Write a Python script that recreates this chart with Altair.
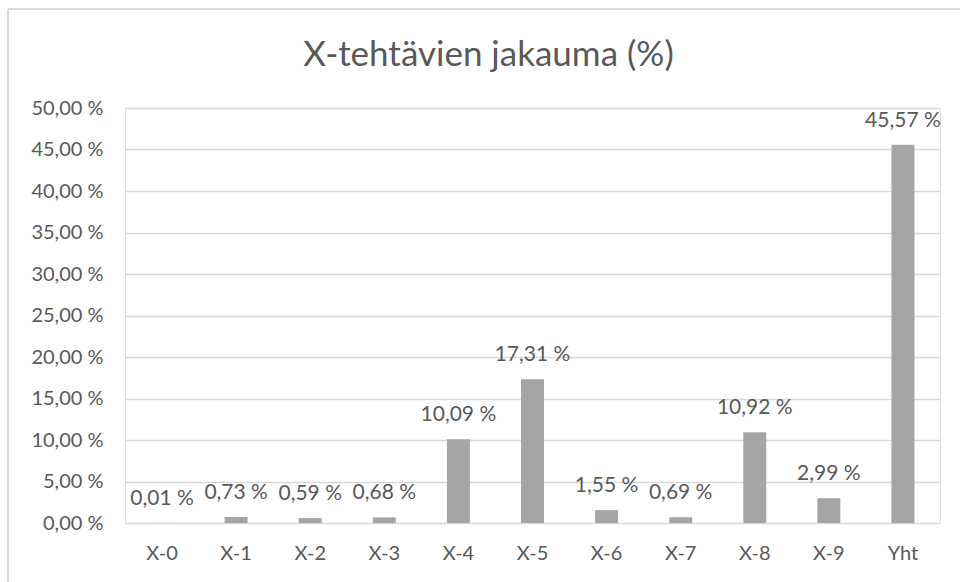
import altair as alt
import pandas as pd

categories = ["X-0", "X-1", "X-2", "X-3", "X-4", "X-5", "X-6", "X-7", "X-8", "X-9", "Yht"]
values = [0.01, 0.73, 0.59, 0.68, 10.09, 17.31, 1.55, 0.69, 10.92, 2.99, 45.57]
y_ticks = [0, 5, 10, 15, 20, 25, 30, 35, 40, 45, 50]
title_text = "X-tehtävien jakauma (%)"

df = pd.DataFrame({"cat": categories, "val": values})

FONT = "Lato"
TXT = "#595959"
GRID = "#D9D9D9"

base = alt.Chart(df).encode(
    x=alt.X("cat:N", sort=categories,
            scale=alt.Scale(paddingInner=0.69, paddingOuter=0.345),
            axis=alt.Axis(title=None, labelAngle=0, tickSize=0, domain=False,
                          labelPadding=20, labelFontSize=20, labelColor=TXT,
                          labelFont=FONT, grid=False)),
)

bars = base.mark_bar(color="#A5A5A5").encode(
    y=alt.Y("val:Q", scale=alt.Scale(domain=[0, 50], nice=False),
            axis=alt.Axis(title=None, values=y_ticks, tickSize=0, domain=False,
                          labelPadding=22, labelFontSize=20, labelColor=TXT,
                          labelFont=FONT, gridColor=GRID, gridWidth=1.5,
                          labelExpr="replace(format(datum.value, '.2f'), '.', ',') + ' %'"))
)

labels = base.transform_calculate(
    lab="replace(format(datum.val, '.2f'), '.', ',') + ' %'"
).mark_text(baseline="alphabetic", dy=-18, fontSize=21, font=FONT, color=TXT).encode(
    y=alt.Y("val:Q"),
    text="lab:N",
)

border_left = alt.Chart(alt.Data(values=[{}])).mark_rule(color=GRID, strokeWidth=2).encode(
    x=alt.value(-117), y=alt.value(-99), y2=alt.value(480)
)
border_top = alt.Chart(alt.Data(values=[{}])).mark_rule(color=GRID, strokeWidth=2).encode(
    x=alt.value(-117), x2=alt.value(850), y=alt.value(-99)
)

chart = alt.layer(border_left, border_top, bars, labels).properties(
    width=815, height=415,
    title=alt.TitleParams(title_text, font=FONT, fontSize=35, fontWeight="normal",
                          color=TXT, anchor="middle", dx=-44, offset=-93,
                          baseline="alphabetic"),
    autosize=alt.AutoSizeParams(type="none"),
    padding={"left": 125, "top": 108, "right": 20, "bottom": 59},
).configure_view(stroke=None).configure(background="white")

chart.save("out.html", embed_options={"renderer": "svg", "actions": False})
